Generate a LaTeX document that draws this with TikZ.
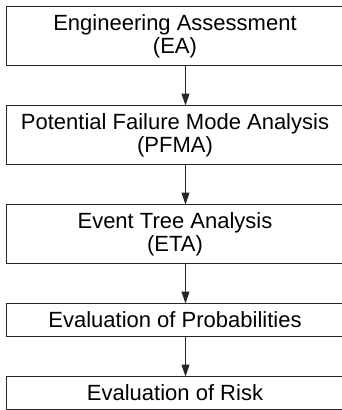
\documentclass[tikz,border=0pt]{standalone}
\usepackage{fontspec}
\setmainfont{Liberation Sans}
\usetikzlibrary{arrows.meta,positioning}

\begin{document}
\begin{tikzpicture}[
  x=1pt, y=1pt,
  font=\fontsize{22}{23}\selectfont,
  node distance=40pt,
  stage/.style={
    draw=black!85,
    line width=1.4pt,
    fill=white,
    align=center,
    minimum width=337pt,
    minimum height=59pt,
    inner sep=2pt,
    outer sep=0pt
  },
  shortstage/.style={stage, minimum height=33pt},
  arrow/.style={-{Triangle[length=12pt, width=8pt]}, line width=1.2pt, draw=black!85}
]
\useasboundingbox (0,0) rectangle (342,-410);

\node[stage] (ea) at (175,-36) {Engineering Assessment\\(EA)};
\node[stage, below=of ea] (pfma) {Potential Failure Mode Analysis\\(PFMA)};
\node[stage, below=of pfma] (eta) {Event Tree Analysis\\(ETA)};
\node[shortstage, below=of eta] (prob) {Evaluation of Probabilities};
\node[shortstage, below=of prob] (risk) {Evaluation of Risk};

\coordinate (axis) at (185.5,0);

\draw[arrow] (ea.south -| axis) -- (pfma.north -| axis);
\draw[arrow] (pfma.south -| axis) -- (eta.north -| axis);
\draw[arrow] (eta.south -| axis) -- (prob.north -| axis);
\draw[arrow] (prob.south -| axis) -- (risk.north -| axis);

\end{tikzpicture}
\end{document}
